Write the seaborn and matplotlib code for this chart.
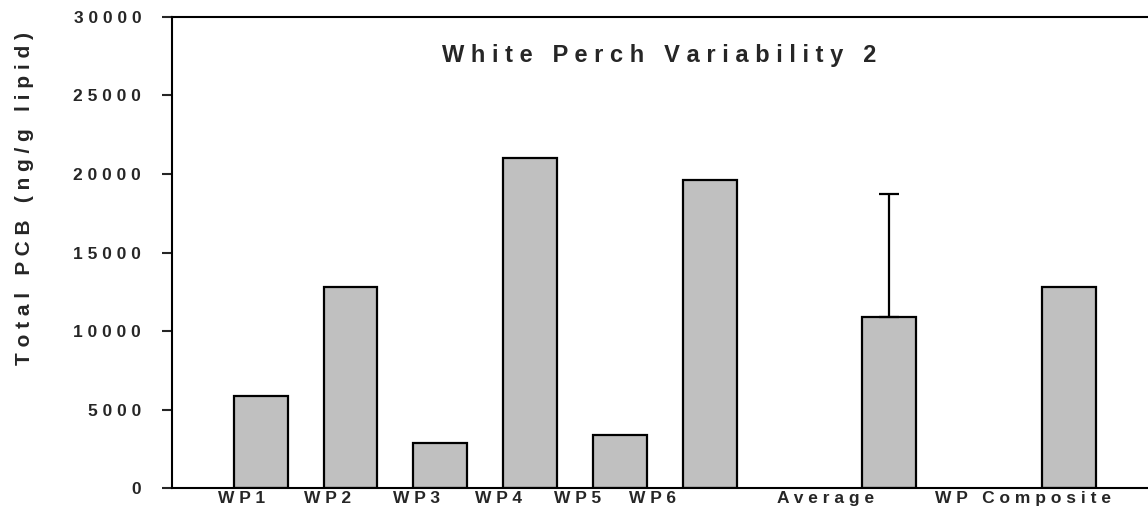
import seaborn as sns
import matplotlib.pyplot as plt
from pandas import DataFrame

# values
samples = ["WP1", "WP2", "WP3", "WP4", "WP5", "WP6", "Average", "WP Composite"]
pcb = [5900, 12800, 2900, 21000, 3400, 19600, 10900, 12800]
avg_sd = 7800

# empty slots keep the gaps between the groups
slot_order = ["WP1", "WP2", "WP3", "WP4", "WP5", "WP6", "", "Average", " ", "WP Composite"]
# where the (off-centre) tick labels sit, in slot units
label_pos = [-0.21, 0.75, 1.74, 2.65, 3.53, 4.36, 6.29, 8.49]
y_ticks = [0, 5000, 10000, 15000, 20000, 25000, 30000]


def spaced(text):
    # imitate the wide letter spacing of the original
    return "   ".join(" ".join(w) for w in text.split(" "))


sns.set_style("white")
plt.rcParams['font.family'] = ['Liberation Sans', 'DejaVu Sans']
plt.rcParams['font.weight'] = 'bold'

df = DataFrame({"sample": samples, "pcb": pcb})

fig = plt.figure(figsize=(11.48, 5.13), dpi=100)
ax = fig.add_axes([0.1496, 0.0481, 0.8504, 0.9193])

sns.barplot(
    data=df,
    x="sample",
    y="pcb",
    order=slot_order,
    color="#c0c0c0",
    saturation=1,
    edgecolor="black",
    linewidth=1.6,
    width=0.6,
    errorbar=None,
    ax=ax
)

avg_x = slot_order.index("Average")
ax.errorbar(avg_x, pcb[samples.index("Average")], yerr=[[0], [avg_sd]],
            fmt="none", ecolor="black", elinewidth=1.6, capsize=7.5,
            capthick=1.6, zorder=1)

ax.set_xlim(-0.99, 9.88)
ax.set_ylim(0, 30000)

ax.set_yticks(y_ticks, [spaced(str(v)) for v in y_ticks])
ax.set_xticks(label_pos, [spaced(s) for s in samples])
ax.tick_params(axis='y', direction='out', length=7, width=1.5, pad=15,
               labelsize=12.5, left=True)
ax.tick_params(axis='x', length=0, pad=2, labelsize=12.5)
ax.set_xlabel("")
ax.set_ylabel("")

for side in ["left", "bottom", "top"]:
    ax.spines[side].set_visible(True)
    ax.spines[side].set_linewidth(1.5)
    ax.spines[side].set_color("black")
ax.spines["right"].set_visible(False)

fig.text(0.5745, 1 - 62.3 / 513, spaced("White Perch Variability 2"),
         ha='center', va='baseline', fontsize=17, fontweight='bold')
fig.text(25 / 1148, 1 - 199 / 513, spaced("Total PCB (ng/g lipid)"),
         ha='center', va='center', rotation=90, fontsize=15, fontweight='bold')

fig.savefig("out.png", dpi=100)
plt.close()
